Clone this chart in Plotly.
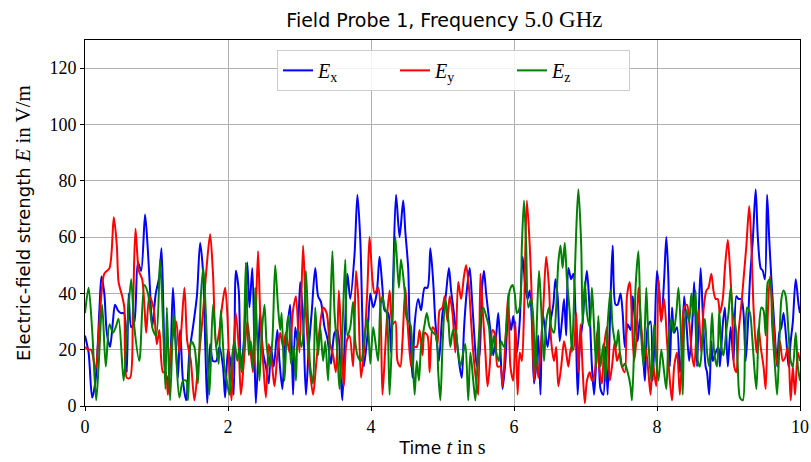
import plotly.graph_objects as go

# ---- E_x (blue) ----
t_x = [0.0, 0.05, 0.10, 0.147, 0.203, 0.23, 0.27, 0.305, 0.35, 0.39, 0.42, 0.46, 0.505, 0.545, 0.585, 0.61, 0.645, 0.69, 0.74, 0.785, 0.84, 0.88, 0.91, 0.94, 0.99, 1.04, 1.07, 1.10, 1.125, 1.17, 1.23, 1.26, 1.30, 1.33, 1.37, 1.415, 1.46, 1.51, 1.565, 1.61, 1.65, 1.685, 1.71, 1.75, 1.79, 1.835, 1.88, 1.93, 1.96,
       2.0, 2.04, 2.08, 2.11, 2.15, 2.18, 2.22, 2.27, 2.30, 2.34, 2.37, 2.39, 2.43, 2.45, 2.49, 2.53, 2.57, 2.60, 2.64, 2.69, 2.72, 2.76, 2.79, 2.83, 2.87, 2.91, 2.94, 2.97, 3.01, 3.05, 3.09, 3.13, 3.17, 3.22, 3.26, 3.30, 3.35, 3.39, 3.44, 3.49, 3.53, 3.58, 3.60, 3.64, 3.67, 3.71, 3.77, 3.81, 3.85, 3.88, 3.90, 3.95,
       3.99, 4.03, 4.08, 4.12, 4.16, 4.19, 4.24, 4.28, 4.31, 4.35, 4.40, 4.45, 4.48, 4.52, 4.54, 4.58, 4.61, 4.66, 4.70, 4.75, 4.79, 4.83, 4.87, 4.90, 4.95, 5.00, 5.04, 5.09, 5.12, 5.15, 5.19, 5.24, 5.27, 5.30, 5.34, 5.38, 5.41, 5.45, 5.48, 5.52, 5.55, 5.58, 5.61, 5.65, 5.68, 5.71, 5.75, 5.78, 5.81, 5.84, 5.88, 5.92, 5.96, 5.99,
       6.04, 6.08, 6.12, 6.16, 6.19, 6.22, 6.25, 6.28, 6.31, 6.34, 6.37, 6.40, 6.43, 6.47, 6.51, 6.55, 6.58, 6.61, 6.64, 6.67, 6.70, 6.73, 6.76, 6.80, 6.83, 6.86, 6.89, 6.92, 6.96, 6.99, 7.02, 7.05, 7.09, 7.12, 7.15, 7.18, 7.21, 7.25, 7.28, 7.31, 7.35, 7.38, 7.42, 7.45, 7.49, 7.52, 7.55, 7.59, 7.63, 7.66, 7.69, 7.73, 7.76, 7.80, 7.83, 7.87, 7.91, 7.94, 7.97, 8.00,
       8.03, 8.06, 8.10, 8.13, 8.16, 8.18, 8.21, 8.24, 8.28, 8.32, 8.35, 8.38, 8.41, 8.45, 8.49, 8.52, 8.56, 8.58, 8.61, 8.64, 8.68, 8.70, 8.73, 8.76, 8.78, 8.82, 8.86, 8.88, 8.92, 8.95, 8.99, 9.03, 9.07, 9.11, 9.14, 9.18, 9.21, 9.24, 9.27, 9.30, 9.34, 9.38, 9.41, 9.45, 9.48, 9.51, 9.54, 9.57, 9.60, 9.64, 9.68, 9.71, 9.74, 9.77, 9.81, 9.84, 9.87, 9.90, 9.94, 9.98, 10.0]
e_x = [25, 19, 3, 9, 35, 46, 40, 26, 21, 30, 36, 34, 33, 33, 12, 40, 28, 30, 51, 48, 68, 55, 41, 28, 40, 46, 56, 30, 12, 9, 42, 27, 10, 27, 9, 2, 19, 28, 39, 58, 48, 19, 1, 22, 16, 16, 21, 14, 3,
       20, 15, 4, 48, 41, 14, 22, 51, 35, 49, 19, 1, 23, 33, 19, 14, 8, 21, 14, 27, 16, 6, 19, 28, 36, 4, 28, 23, 44, 31, 4, 21, 33, 49, 39, 37, 28, 24, 15, 26, 27, 9, 2, 30, 47, 38, 54, 75, 59, 30, 14, 25,
       40, 35, 40, 53, 42, 34, 33, 19, 45, 75, 60, 73, 62, 49, 29, 10, 29, 38, 34, 42, 42, 56, 44, 30, 16, 33, 38, 49, 41, 35, 26, 14, 10, 27, 41, 49, 39, 23, 14, 19, 41, 48, 40, 31, 25, 18, 25, 33, 20, 6, 16, 33, 27, 32,
       19, 30, 53, 42, 38, 41, 30, 8, 14, 25, 4, 33, 28, 21, 30, 36, 45, 39, 23, 30, 38, 25, 49, 45, 47, 33, 4, 21, 30, 41, 48, 38, 14, 4, 16, 30, 6, 4, 21, 4, 38, 57, 36, 36, 40, 33, 21, 29, 27, 39, 31, 23, 31, 21, 9, 28, 30, 9, 28, 48,
       41, 30, 45, 60, 45, 14, 35, 26, 28, 12, 19, 39, 30, 16, 28, 44, 14, 30, 49, 33, 14, 12, 4, 23, 16, 19, 21, 14, 29, 35, 14, 28, 16, 39, 38, 38, 33, 16, 28, 45, 59, 77, 60, 49, 48, 45, 75, 59, 45, 29, 14, 26, 28, 33, 23, 14, 23, 30, 45, 36, 33]

# ---- E_y (red) ----
t_y = [0.0, 0.05, 0.086, 0.147, 0.203, 0.27, 0.343, 0.403, 0.445, 0.47, 0.52, 0.55, 0.585, 0.63, 0.67, 0.706, 0.753, 0.80, 0.832, 0.856, 0.90, 0.958, 1.005, 1.04, 1.09, 1.125, 1.16, 1.2, 1.275, 1.32, 1.39, 1.43, 1.48, 1.53, 1.58, 1.65, 1.70, 1.75, 1.79, 1.835, 1.88, 1.92, 1.96,
       1.99, 2.02, 2.05, 2.08, 2.11, 2.15, 2.18, 2.22, 2.27, 2.31, 2.35, 2.38, 2.42, 2.45, 2.49, 2.53, 2.57, 2.61, 2.65, 2.69, 2.73, 2.77, 2.81, 2.86, 2.91, 2.95, 3.00, 3.05, 3.09, 3.14, 3.19, 3.23, 3.28, 3.33, 3.38, 3.42, 3.47, 3.51, 3.55, 3.58, 3.62, 3.66, 3.70, 3.75, 3.79, 3.82, 3.86, 3.90, 3.95, 3.98,
       4.02, 4.05, 4.10, 4.13, 4.16, 4.19, 4.22, 4.26, 4.30, 4.34, 4.37, 4.41, 4.44, 4.48, 4.51, 4.56, 4.59, 4.64, 4.68, 4.72, 4.75, 4.79, 4.82, 4.86, 4.89, 4.93, 4.96, 5.00, 5.03, 5.07, 5.10, 5.14, 5.18, 5.22, 5.26, 5.30, 5.33, 5.37, 5.40, 5.43, 5.47, 5.50, 5.53, 5.56, 5.60, 5.63, 5.66, 5.70, 5.74, 5.77, 5.81, 5.84, 5.88, 5.92, 5.95, 5.99, 6.02, 6.05,
       6.08, 6.11, 6.14, 6.18, 6.22, 6.25, 6.28, 6.31, 6.34, 6.38, 6.41, 6.45, 6.49, 6.52, 6.56, 6.59, 6.62, 6.66, 6.70, 6.73, 6.76, 6.80, 6.83, 6.87, 6.90, 6.93, 6.96, 6.99, 7.02, 7.06, 7.09, 7.13, 7.16, 7.19, 7.23, 7.26, 7.30, 7.34, 7.37, 7.41, 7.44, 7.48, 7.51, 7.55, 7.58, 7.62, 7.65, 7.68, 7.71, 7.74, 7.78, 7.81, 7.84, 7.88, 7.91, 7.94, 7.96, 7.99, 8.02,
       8.06, 8.10, 8.14, 8.18, 8.21, 8.24, 8.28, 8.32, 8.35, 8.38, 8.42, 8.45, 8.49, 8.52, 8.55, 8.58, 8.62, 8.65, 8.69, 8.72, 8.76, 8.79, 8.82, 8.85, 8.88, 8.92, 8.95, 8.99, 9.02, 9.05, 9.08, 9.11, 9.14, 9.18, 9.21, 9.25, 9.29, 9.32, 9.35, 9.39, 9.42, 9.45, 9.49, 9.52, 9.55, 9.58, 9.62, 9.66, 9.69, 9.72, 9.76, 9.79, 9.83, 9.87, 9.90, 9.93, 9.97, 10.0]
e_y = [21, 20, 20, 13, 30, 47, 49, 67, 57, 44, 39, 35, 10, 10, 33, 63, 48, 45, 35, 26, 39, 35, 22, 27, 12, 12, 4, 20, 30, 19, 42, 23, 16, 2, 14, 33, 49, 61, 47, 21, 27, 36, 42,
       33, 12, 2, 21, 33, 21, 4, 15, 30, 21, 12, 25, 55, 33, 16, 3, 22, 16, 7, 18, 26, 21, 26, 19, 34, 39, 19, 57, 33, 14, 4, 14, 27, 35, 33, 23, 18, 12, 41, 26, 7, 23, 25, 14, 48, 39, 10, 19, 42, 60,
       45, 40, 42, 36, 4, 16, 30, 41, 29, 30, 16, 14, 23, 42, 30, 14, 21, 21, 27, 18, 26, 25, 12, 28, 27, 22, 34, 35, 39, 30, 39, 33, 19, 44, 38, 46, 50, 42, 30, 19, 9, 4, 47, 35, 19, 7, 14, 27, 25, 14, 14, 7, 23, 40, 14, 9, 30, 4,
       19, 16, 33, 73, 57, 37, 9, 19, 10, 23, 35, 53, 42, 23, 16, 21, 7, 14, 23, 19, 14, 21, 20, 33, 12, 29, 13, 1, 9, 12, 9, 12, 26, 14, 8, 21, 28, 9, 14, 23, 16, 19, 14, 12, 39, 44, 30, 16, 23, 42, 28, 16, 21, 12, 4, 16, 12, 7, 45,
       30, 38, 23, 9, 2, 14, 19, 4, 19, 35, 36, 30, 18, 14, 25, 34, 19, 34, 41, 42, 47, 41, 38, 38, 33, 38, 49, 59, 49, 35, 14, 12, 26, 36, 45, 57, 71, 57, 35, 19, 28, 21, 14, 6, 33, 46, 33, 19, 14, 23, 16, 17, 21, 2, 14, 4, 19, 16]

# ---- E_z (green) ----
t_z = [0.0, 0.05, 0.10, 0.156, 0.19, 0.24, 0.29, 0.343, 0.39, 0.43, 0.47, 0.54, 0.585, 0.645, 0.69, 0.76, 0.83, 0.88, 0.95, 0.995, 1.05, 1.09, 1.125, 1.145, 1.19, 1.24, 1.275, 1.32, 1.37, 1.415, 1.44, 1.485, 1.53, 1.58, 1.62, 1.655, 1.69, 1.74, 1.79, 1.835, 1.87, 1.90, 1.95,
       1.99, 2.02, 2.06, 2.09, 2.13, 2.16, 2.19, 2.22, 2.25, 2.29, 2.32, 2.35, 2.38, 2.41, 2.44, 2.47, 2.51, 2.54, 2.58, 2.62, 2.66, 2.70, 2.73, 2.75, 2.79, 2.83, 2.85, 2.88, 2.92, 2.95, 2.98, 3.03, 3.07, 3.09, 3.12, 3.15, 3.19, 3.22, 3.26, 3.29, 3.33, 3.36, 3.40, 3.43, 3.46, 3.49, 3.53, 3.56, 3.60, 3.64, 3.67, 3.71, 3.75, 3.78, 3.81, 3.86, 3.91, 3.95, 3.99,
       4.03, 4.06, 4.10, 4.13, 4.16, 4.19, 4.22, 4.26, 4.30, 4.34, 4.39, 4.42, 4.47, 4.50, 4.55, 4.58, 4.61, 4.64, 4.67, 4.70, 4.75, 4.78, 4.82, 4.87, 4.91, 4.94, 4.97, 5.00, 5.04, 5.08, 5.11, 5.15, 5.18, 5.21, 5.25, 5.29, 5.32, 5.36, 5.39, 5.43, 5.46, 5.50, 5.54, 5.57, 5.61, 5.65, 5.68, 5.72, 5.75, 5.79, 5.82, 5.86, 5.90, 5.94, 5.98, 6.01, 6.04,
       6.08, 6.11, 6.14, 6.17, 6.20, 6.24, 6.27, 6.30, 6.32, 6.35, 6.38, 6.42, 6.45, 6.49, 6.52, 6.56, 6.59, 6.62, 6.65, 6.68, 6.71, 6.74, 6.78, 6.81, 6.84, 6.87, 6.90, 6.94, 6.96, 6.99, 7.02, 7.06, 7.09, 7.12, 7.15, 7.18, 7.21, 7.25, 7.28, 7.31, 7.35, 7.38, 7.43, 7.46, 7.49, 7.52, 7.55, 7.59, 7.63, 7.65, 7.68, 7.70, 7.74, 7.77, 7.81, 7.85, 7.88, 7.92, 7.96, 7.99, 8.02, 8.06,
       8.10, 8.13, 8.16, 8.20, 8.23, 8.27, 8.30, 8.33, 8.36, 8.38, 8.41, 8.45, 8.48, 8.51, 8.54, 8.57, 8.60, 8.64, 8.67, 8.70, 8.73, 8.77, 8.80, 8.84, 8.87, 8.90, 8.93, 8.97, 9.00, 9.03, 9.06, 9.10, 9.13, 9.16, 9.20, 9.23, 9.26, 9.30, 9.33, 9.36, 9.39, 9.42, 9.46, 9.49, 9.52, 9.55, 9.58, 9.61, 9.65, 9.68, 9.71, 9.74, 9.77, 9.80, 9.84, 9.87, 9.90, 9.94, 9.97, 10.0]
e_z = [33, 42, 27, 2, 14, 36, 14, 29, 26, 28, 31, 9, 25, 45, 28, 16, 43, 40, 27, 25, 52, 30, 6, 35, 2, 33, 18, 3, 9, 9, 2, 23, 21, 8, 39, 49, 33, 4, 36, 21, 15, 34, 14,
       8, 4, 18, 23, 16, 21, 12, 21, 51, 18, 23, 13, 42, 23, 9, 25, 36, 22, 14, 23, 50, 35, 27, 33, 9, 30, 32, 15, 21, 9, 27, 21, 35, 48, 30, 14, 8, 35, 18, 28, 16, 23, 9, 33, 55, 33, 19, 6, 27, 52, 25, 28, 37, 23, 18, 16, 25, 31, 15,
       28, 23, 16, 35, 39, 35, 33, 4, 30, 60, 42, 52, 41, 31, 29, 19, 4, 16, 9, 21, 29, 33, 28, 26, 25, 12, 2, 21, 38, 31, 21, 27, 27, 21, 14, 19, 22, 2, 19, 9, 2, 21, 33, 35, 32, 28, 18, 25, 19, 16, 23, 21, 30, 41, 43, 40, 33,
       35, 57, 73, 57, 35, 38, 31, 12, 30, 48, 35, 16, 30, 35, 28, 26, 35, 51, 57, 49, 58, 45, 33, 19, 38, 62, 77, 57, 29, 44, 33, 28, 42, 28, 14, 32, 14, 22, 9, 29, 41, 28, 21, 27, 16, 14, 15, 12, 7, 2, 21, 42, 55, 30, 14, 42, 23, 9, 29, 16, 9, 20,
       12, 6, 23, 31, 26, 33, 42, 29, 4, 27, 34, 30, 40, 32, 41, 16, 14, 25, 31, 19, 14, 33, 19, 14, 34, 21, 18, 27, 33, 42, 33, 28, 14, 3, 2, 19, 35, 33, 25, 14, 6, 25, 35, 34, 25, 44, 45, 29, 14, 4, 21, 38, 41, 39, 26, 16, 14, 26, 14, 9]

x_ticks = [0, 2, 4, 6, 8, 10]
y_ticks = [0, 20, 40, 60, 80, 100, 120]

SANS = "DejaVu Sans"
SERIF = "Liberation Serif"

def m(s, size):
    return f"<span style='font-family:{SERIF};font-size:{size}px'>{s}</span>"

fig = go.Figure()
for t, e, name, col in [(t_x, e_x, "x", "#0000ff"), (t_y, e_y, "y", "#ff0000"), (t_z, e_z, "z", "#008000")]:
    fig.add_trace(go.Scatter(
        x=t, y=e, mode="lines",
        name=f"<i>E</i><sub>{name}</sub>",
        line=dict(color=col, width=2, shape="spline", smoothing=0.8),
    ))

axis_common = dict(
    showgrid=True, gridcolor="#b0b0b0", gridwidth=1,
    showline=True, linecolor="black", linewidth=1, mirror=True,
    ticks="outside", ticklen=4, tickcolor="black",
    tickfont=dict(family=SERIF, size=18, color="black"),
    zeroline=False, automargin=False,
)

fig.update_layout(
    width=811, height=462,
    paper_bgcolor="white", plot_bgcolor="white",
    margin=dict(l=85, r=11, t=40, b=56),
    title=dict(text="Field Probe 1, Frequency " + m("5.0 GHz", 23),
               x=0.548, xanchor="center", y=0.957, yanchor="middle",
               font=dict(family=SANS, size=19, color="black")),
    font=dict(family=SANS, size=16, color="black"),
    xaxis=dict(range=[0, 10], tickvals=x_ticks,
               title=dict(text="Time " + m("<i>t</i> in s", 20), standoff=6,
                          font=dict(family=SANS, size=17)),
               **axis_common),
    yaxis=dict(range=[0, 130], tickvals=y_ticks,
               title=dict(text="Electric-field strength " + m("<i>E</i> in V/m", 21), standoff=14,
                          font=dict(family=SANS, size=18)),
               **axis_common),
    legend=dict(orientation="h", x=0.2685, xanchor="left", y=0.973, yanchor="top",
                bgcolor="rgba(255,255,255,0.85)", bordercolor="#cccccc", borderwidth=1,
                font=dict(family=SERIF, size=20, color="black"),
                entrywidth=72, entrywidthmode="pixels"),
    showlegend=True,
)

fig.write_html("out.html", config={"displayModeBar": False},
               post_script="document.body.style.margin='0';")
